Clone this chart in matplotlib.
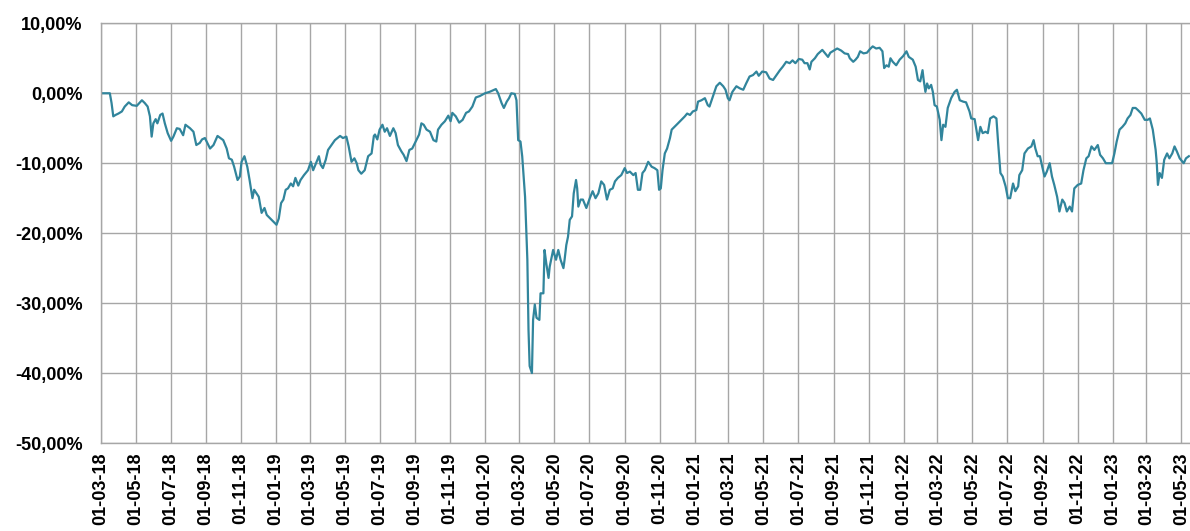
import matplotlib
matplotlib.use("Agg")
import matplotlib.pyplot as plt
import matplotlib.dates as mdates
from matplotlib.ticker import MultipleLocator, FuncFormatter
import pandas as pd

# drawdown series (date, %)
dates = [
    "2018-03-01", "2018-03-17", "2018-03-20", "2018-03-23", "2018-03-27", "2018-04-01", "2018-04-07",
    "2018-04-12", "2018-04-19", "2018-04-25", "2018-05-03", "2018-05-12", "2018-05-17", "2018-05-22",
    "2018-05-26", "2018-05-29", "2018-06-01", "2018-06-05", "2018-06-08", "2018-06-13", "2018-06-17",
    "2018-06-21", "2018-06-26", "2018-07-02", "2018-07-06", "2018-07-12", "2018-07-17", "2018-07-23",
    "2018-07-27", "2018-08-04", "2018-08-10", "2018-08-15", "2018-08-21", "2018-08-25", "2018-08-30",
    "2018-09-08", "2018-09-14", "2018-09-21", "2018-10-01", "2018-10-07", "2018-10-11", "2018-10-16",
    "2018-10-20", "2018-10-26", "2018-10-30", "2018-11-02", "2018-11-07", "2018-11-12", "2018-11-16",
    "2018-11-21", "2018-11-24", "2018-11-28", "2018-12-02", "2018-12-07", "2018-12-12", "2018-12-16",
    "2018-12-22", "2018-12-27", "2019-01-02", "2019-01-06", "2019-01-10", "2019-01-14", "2019-01-18",
    "2019-01-22", "2019-01-27", "2019-01-31", "2019-02-04", "2019-02-09", "2019-02-13", "2019-02-19",
    "2019-02-26", "2019-03-03", "2019-03-07", "2019-03-13", "2019-03-17", "2019-03-20", "2019-03-24",
    "2019-03-29", "2019-04-02", "2019-04-08", "2019-04-14", "2019-04-23", "2019-04-28", "2019-05-04",
    "2019-05-08", "2019-05-13", "2019-05-18", "2019-05-22", "2019-05-25", "2019-05-30", "2019-06-05",
    "2019-06-11", "2019-06-17", "2019-06-21", "2019-06-23", "2019-06-27", "2019-07-01", "2019-07-06",
    "2019-07-10", "2019-07-14", "2019-07-19", "2019-07-25", "2019-07-29", "2019-08-02", "2019-08-08",
    "2019-08-12", "2019-08-17", "2019-08-22", "2019-08-27", "2019-09-02", "2019-09-08", "2019-09-12",
    "2019-09-16", "2019-09-21", "2019-09-27", "2019-10-03", "2019-10-08", "2019-10-11", "2019-10-17",
    "2019-10-23", "2019-10-29", "2019-11-02", "2019-11-05", "2019-11-11", "2019-11-17", "2019-11-23",
    "2019-11-29", "2019-12-04", "2019-12-10", "2019-12-16", "2019-12-23", "2020-01-01", "2020-01-09",
    "2020-01-20", "2020-01-24", "2020-01-30", "2020-02-03", "2020-02-08", "2020-02-12", "2020-02-16",
    "2020-02-22", "2020-02-25", "2020-02-28", "2020-03-03", "2020-03-06", "2020-03-11", "2020-03-15",
    "2020-03-17", "2020-03-19", "2020-03-23", "2020-03-25", "2020-03-28", "2020-03-31", "2020-04-05",
    "2020-04-07", "2020-04-12", "2020-04-14", "2020-04-17", "2020-04-21", "2020-04-23", "2020-04-29",
    "2020-05-04", "2020-05-08", "2020-05-12", "2020-05-17", "2020-05-19", "2020-05-22", "2020-05-25",
    "2020-05-28", "2020-06-01", "2020-06-04", "2020-06-08", "2020-06-10", "2020-06-12", "2020-06-16",
    "2020-06-20", "2020-06-26", "2020-07-02", "2020-07-07", "2020-07-12", "2020-07-17", "2020-07-22",
    "2020-07-27", "2020-08-01", "2020-08-06", "2020-08-11", "2020-08-15", "2020-08-20", "2020-08-26",
    "2020-09-01", "2020-09-05", "2020-09-10", "2020-09-16", "2020-09-20", "2020-09-24", "2020-09-28",
    "2020-10-02", "2020-10-06", "2020-10-12", "2020-10-18", "2020-10-23", "2020-10-28", "2020-10-31",
    "2020-11-03", "2020-11-06", "2020-11-10", "2020-11-14", "2020-11-19", "2020-11-22", "2020-11-27",
    "2020-12-03", "2020-12-09", "2020-12-15", "2020-12-19", "2020-12-24", "2020-12-29", "2021-01-04",
    "2021-01-07", "2021-01-13", "2021-01-19", "2021-01-24", "2021-01-27", "2021-02-01", "2021-02-08",
    "2021-02-14", "2021-02-20", "2021-02-24", "2021-02-28", "2021-03-03", "2021-03-08", "2021-03-15",
    "2021-03-21", "2021-03-27", "2021-04-01", "2021-04-07", "2021-04-13", "2021-04-19", "2021-04-23",
    "2021-04-29", "2021-05-06", "2021-05-12", "2021-05-18", "2021-05-24", "2021-05-30", "2021-06-04",
    "2021-06-10", "2021-06-16", "2021-06-21", "2021-06-26", "2021-07-02", "2021-07-08", "2021-07-12",
    "2021-07-17", "2021-07-21", "2021-07-24", "2021-07-30", "2021-08-04", "2021-08-12", "2021-08-18",
    "2021-08-22", "2021-08-26", "2021-09-01", "2021-09-07", "2021-09-14", "2021-09-20", "2021-09-26",
    "2021-09-29", "2021-10-05", "2021-10-09", "2021-10-13", "2021-10-17", "2021-10-23", "2021-10-29",
    "2021-11-03", "2021-11-08", "2021-11-14", "2021-11-20", "2021-11-25", "2021-11-28", "2021-12-02",
    "2021-12-06", "2021-12-09", "2021-12-13", "2021-12-19", "2021-12-25", "2021-12-31", "2022-01-06",
    "2022-01-10", "2022-01-17", "2022-01-22", "2022-01-26", "2022-01-30", "2022-02-03", "2022-02-05",
    "2022-02-08", "2022-02-11", "2022-02-14", "2022-02-18", "2022-02-21", "2022-02-24", "2022-02-28",
    "2022-03-05", "2022-03-08", "2022-03-11", "2022-03-15", "2022-03-19", "2022-03-25", "2022-03-31",
    "2022-04-04", "2022-04-09", "2022-04-15", "2022-04-20", "2022-04-26", "2022-04-29", "2022-05-05",
    "2022-05-11", "2022-05-15", "2022-05-19", "2022-05-24", "2022-05-28", "2022-06-01", "2022-06-07",
    "2022-06-12", "2022-06-15", "2022-06-19", "2022-06-23", "2022-06-28", "2022-07-02", "2022-07-06",
    "2022-07-11", "2022-07-15", "2022-07-20", "2022-07-22", "2022-07-27", "2022-07-31", "2022-08-06",
    "2022-08-12", "2022-08-16", "2022-08-19", "2022-08-23", "2022-08-27", "2022-08-31", "2022-09-04",
    "2022-09-08", "2022-09-13", "2022-09-17", "2022-09-21", "2022-09-26", "2022-09-30", "2022-10-05",
    "2022-10-09", "2022-10-13", "2022-10-18", "2022-10-22", "2022-10-26", "2022-11-01", "2022-11-07",
    "2022-11-11", "2022-11-16", "2022-11-20", "2022-11-25", "2022-11-30", "2022-12-06", "2022-12-10",
    "2022-12-15", "2022-12-20", "2022-12-25", "2022-12-31", "2023-01-04", "2023-01-08", "2023-01-13",
    "2023-01-18", "2023-01-23", "2023-01-27", "2023-02-01", "2023-02-05", "2023-02-10", "2023-02-14",
    "2023-02-20", "2023-02-26", "2023-03-03", "2023-03-07", "2023-03-12", "2023-03-17", "2023-03-19",
    "2023-03-21", "2023-03-24", "2023-03-28", "2023-04-01", "2023-04-06", "2023-04-10", "2023-04-15",
    "2023-04-19", "2023-04-23", "2023-04-28", "2023-05-05", "2023-05-09", "2023-05-14",
]
drawdown = [
    0.0, 0.0, -1.4, -3.3, -3.1, -2.9, -2.6,
    -1.9, -1.3, -1.7, -1.8, -1.0, -1.4, -1.9,
    -3.3, -6.2, -4.3, -3.7, -4.3, -3.1, -2.9,
    -4.3, -5.7, -6.8, -6.2, -5.0, -5.1, -6.0,
    -4.5, -5.0, -5.5, -7.4, -7.1, -6.6, -6.4,
    -7.9, -7.4, -6.1, -6.7, -7.9, -9.3, -9.5,
    -10.5, -12.4, -11.9, -9.8, -9.0, -10.5, -12.4,
    -15.0, -13.8, -14.3, -14.8, -17.1, -16.4, -17.4,
    -17.9, -18.3, -18.8, -17.9, -15.7, -15.2, -13.8,
    -13.6, -12.9, -13.3, -12.1, -13.2, -12.4, -11.7,
    -11.0, -9.8, -11.0, -9.8, -9.0, -10.2, -10.7,
    -9.5, -8.1, -7.4, -6.7, -6.1, -6.4, -6.2,
    -7.6, -9.8, -9.3, -10.0, -11.0, -11.5, -11.0,
    -9.0, -8.6, -6.1, -5.9, -6.6, -5.2, -4.5,
    -5.5, -5.0, -6.1, -5.0, -5.7, -7.4, -8.3,
    -8.8, -9.7, -8.1, -7.9, -6.9, -5.9, -4.3,
    -4.5, -5.2, -5.5, -6.7, -6.9, -5.2, -4.5,
    -4.0, -3.2, -4.0, -2.8, -3.3, -4.2, -3.8,
    -2.8, -2.6, -1.9, -0.6, -0.4, 0.0, 0.2,
    0.6, 0.0, -1.4, -2.1, -1.2, -0.7, 0.0,
    -0.1, -1.0, -6.7, -6.9, -9.0, -14.8, -23.8,
    -33.8, -39.0, -40.0, -32.4, -30.2, -32.1, -32.4,
    -28.6, -28.6, -22.4, -24.3, -26.4, -24.8, -22.4,
    -23.8, -22.4, -23.8, -25.0, -23.8, -21.7, -20.5,
    -18.1, -17.6, -14.3, -12.4, -13.6, -16.2, -15.2,
    -15.2, -16.4, -15.0, -14.0, -15.0, -14.3, -12.6,
    -13.1, -15.2, -13.8, -13.6, -12.6, -12.1, -11.7,
    -10.7, -11.4, -11.2, -11.7, -11.4, -13.8, -13.8,
    -11.4, -11.0, -9.8, -10.5, -10.7, -11.0, -13.8,
    -13.6, -11.0, -8.6, -7.9, -6.4, -5.2, -4.8,
    -4.3, -3.8, -3.3, -2.9, -3.1, -2.6, -2.4,
    -1.2, -1.0, -0.7, -1.7, -1.9, -0.7, 1.0,
    1.5, 1.0, 0.5, -0.7, -1.0, 0.2, 1.0,
    0.7, 0.5, 1.4, 2.4, 2.6, 3.1, 2.5,
    3.1, 3.0, 2.1, 1.9, 2.6, 3.3, 3.8,
    4.5, 4.3, 4.7, 4.3, 4.9, 4.8, 4.3,
    4.3, 3.4, 4.5, 5.0, 5.6, 6.2, 5.6,
    5.2, 5.8, 6.1, 6.4, 6.1, 5.7, 5.6,
    5.0, 4.5, 4.8, 5.2, 6.0, 5.7, 5.8,
    6.3, 6.7, 6.4, 6.5, 6.0, 3.6, 4.0,
    3.8, 5.0, 4.5, 4.0, 4.8, 5.3, 6.0,
    5.2, 4.8, 3.8, 1.9, 1.7, 3.3, 1.9,
    0.2, 1.4, 0.7, 1.2, 0.2, -1.7, -1.9,
    -3.8, -6.7, -4.5, -4.8, -2.1, -0.7, 0.2,
    0.5, -1.0, -1.2, -1.3, -2.6, -3.6, -3.7,
    -6.7, -4.8, -5.7, -5.5, -5.7, -3.6, -3.3,
    -3.6, -7.1, -11.4, -11.9, -13.3, -15.0, -15.0,
    -12.9, -14.0, -13.3, -11.7, -11.0, -8.6, -7.9,
    -7.6, -6.7, -7.9, -9.0, -9.0, -10.5, -11.9,
    -11.2, -10.0, -11.9, -13.1, -14.8, -16.9, -15.2,
    -15.7, -16.9, -16.2, -16.9, -13.6, -13.1, -12.9,
    -11.0, -9.3, -9.0, -7.6, -8.1, -7.4, -8.8,
    -9.3, -10.0, -10.0, -10.0, -8.6, -6.9, -5.2,
    -4.8, -4.3, -3.6, -3.1, -2.1, -2.1, -2.4,
    -2.9, -3.8, -3.8, -3.6, -5.2, -8.1, -10.0,
    -13.1, -11.4, -12.1, -9.5, -8.6, -9.3, -8.6,
    -7.6, -8.3, -9.3, -10.0, -9.3, -9.0,
]

x_start = "2018-03-01"
x_end = "2023-05-16"
y_min, y_max = -50, 10

LINE_COLOR = "#31859C"
GRID_COLOR = "#A6A6A6"

plt.rcParams["font.family"] = ["Liberation Sans", "DejaVu Sans"]

fig = plt.figure(figsize=(11.9, 5.31), dpi=100)
ax = fig.add_axes([0.0846, 0.1657, 0.9154, 0.7904])

ax.plot(pd.to_datetime(dates), drawdown, color=LINE_COLOR, lw=1.6, solid_joinstyle="round")

ax.set_xlim(pd.Timestamp(x_start), pd.Timestamp(x_end))
ax.set_ylim(y_min, y_max)

ax.xaxis.set_major_locator(mdates.MonthLocator(bymonth=[1, 3, 5, 7, 9, 11]))
ax.xaxis.set_major_formatter(mdates.DateFormatter("%d-%m-%y"))
ax.yaxis.set_major_locator(MultipleLocator(10))
ax.yaxis.set_major_formatter(FuncFormatter(lambda v, p: f"{v:.2f}%".replace(".", ",")))

ax.grid(True, color=GRID_COLOR, lw=1.0)
ax.set_axisbelow(True)
for side in ["left", "bottom", "top"]:
    ax.spines[side].set_color(GRID_COLOR)
    ax.spines[side].set_linewidth(1.0)
ax.spines["right"].set_visible(False)

ax.tick_params(axis="both", length=0, labelsize=13)
ax.tick_params(axis="y", pad=13)
ax.tick_params(axis="x", pad=7)
for lab in ax.get_xticklabels():
    lab.set_rotation(90)
    lab.set_fontweight("bold")
    lab.set_va("top")
    lab.set_ha("center")
for lab in ax.get_yticklabels():
    lab.set_fontweight("bold")

fig.savefig("out.png", dpi=100)
